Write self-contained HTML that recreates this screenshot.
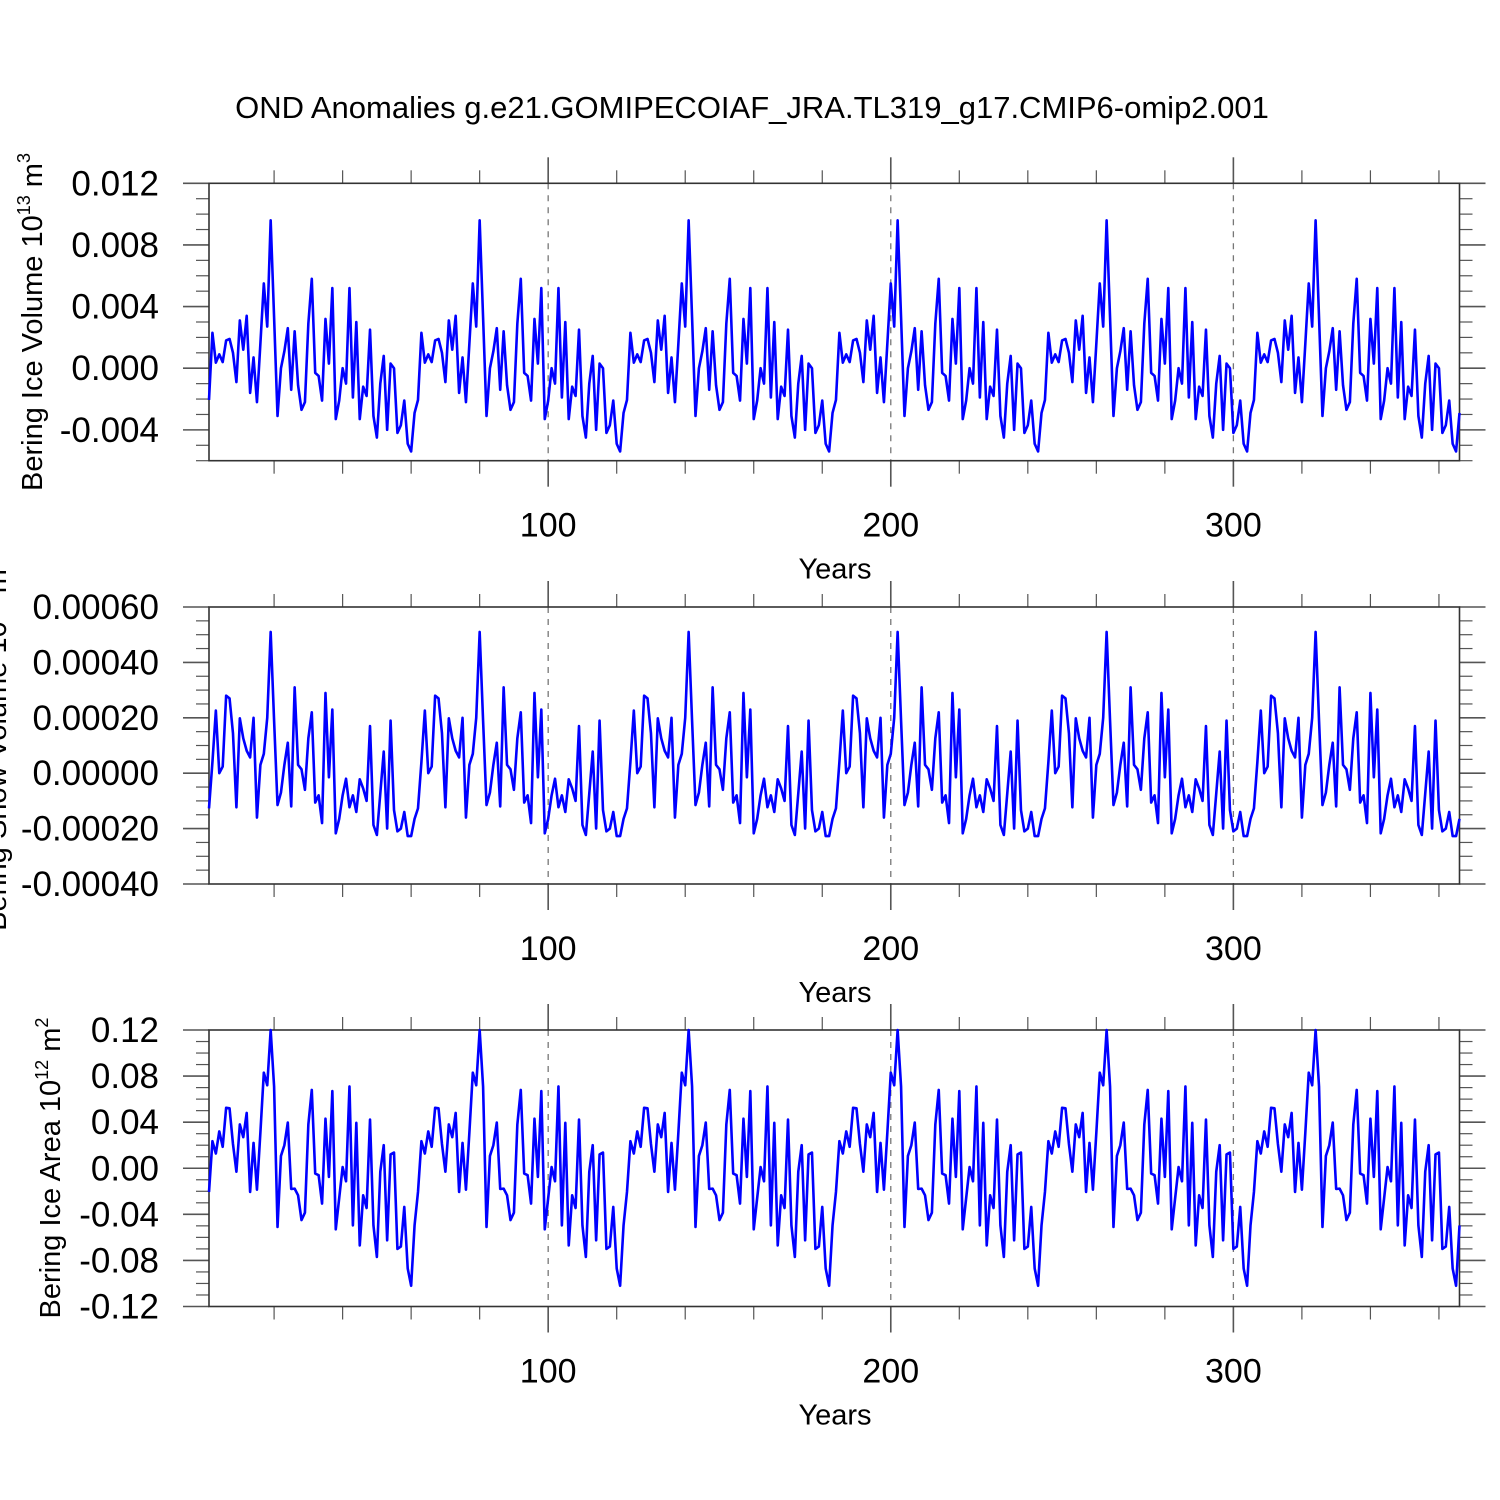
<!DOCTYPE html>
<html><head><meta charset="utf-8"><style>
html,body{margin:0;padding:0;background:#fff;}
svg{display:block;font-family:"Liberation Sans",sans-serif;}
</style></head><body>
<svg id="chart" width="1500" height="1500" viewBox="0 0 1500 1500">
<text x="752" y="118" font-size="31" text-anchor="middle">OND Anomalies g.e21.GOMIPECOIAF_JRA.TL319_g17.CMIP6-omip2.001</text>
</svg>
<script>
// one 61-year forcing cycle per panel (JRA 1958-2018), repeated over 6 cycles
const cycleIceVolume = [-0.00206,0.0023,0.00036,0.0009,0.0004,0.0018,0.0019,0.001,-0.0009,0.0031,0.0012,0.0034,-0.0016,0.0007,-0.0022,0.0016,0.0055,0.0027,0.0096,0.0033,-0.0031,0.0,0.0011,0.0026,-0.0014,0.0024,-0.0011,-0.0027,-0.0022,0.0029,0.0058,-0.0003,-0.0005,-0.0021,0.0032,0.0003,0.0052,-0.0033,-0.0021,0.0,-0.001,0.0052,-0.0019,0.003,-0.0033,-0.0012,-0.0018,0.0025,-0.0031,-0.0045,-0.001,0.0008,-0.004,0.0003,0.0,-0.0042,-0.0037,-0.0021,-0.0049,-0.0054,-0.0029];
const cycleSnowVolume = [-0.000127,0.00004,0.000226,0.0,0.000024,0.00028,0.00027,0.000144,-0.000123,0.000198,0.000126,0.000081,0.000057,0.0002,-0.00016,0.00003,0.00007,0.0002,0.00051,0.00019,-0.000115,-0.00007,0.00003,0.00011,-0.00012,0.00031,0.00003,0.000014,-0.00006,0.000126,0.00022,-0.000106,-0.00008,-0.00018,0.00029,-0.000015,0.00023,-0.000217,-0.000165,-0.00008,-0.00002,-0.000123,-0.00008,-0.00014,-0.000022,-0.000055,-0.0001,0.00017,-0.000187,-0.000223,-0.000073,0.000078,-0.0002,0.00019,-0.000133,-0.00021,-0.0002,-0.00014,-0.000227,-0.000227,-0.000165];
const cycleIceArea = [-0.0206,0.0235,0.0128,0.032,0.0186,0.0525,0.052,0.021,-0.003,0.038,0.027,0.048,-0.0206,0.022,-0.0186,0.031,0.083,0.072,0.12,0.071,-0.051,0.0107,0.02,0.0397,-0.018,-0.0177,-0.0235,-0.045,-0.0386,0.038,0.068,-0.0046,-0.006,-0.0307,0.043,-0.0075,0.067,-0.053,-0.026,0.001,-0.0113,0.071,-0.0496,0.0394,-0.067,-0.0235,-0.0345,0.0423,-0.0496,-0.077,-0.003,0.02,-0.0626,0.012,0.0136,-0.07,-0.068,-0.0336,-0.087,-0.102,-0.0496];
const nCycles = 6;
const xTickLabels = ["100","200","300"];
const xTickValues = [100,200,300];
const p1Ticks = ["-0.004","0.000","0.004","0.008","0.012"];
const p2Ticks = ["-0.00040","-0.00020","0.00000","0.00020","0.00040","0.00060"];
const p3Ticks = ["-0.12","-0.08","-0.04","0.00","0.04","0.08","0.12"];

const svg = document.getElementById('chart');
const NS = 'http://www.w3.org/2000/svg';
function mk(tag, attrs){const e=document.createElementNS(NS,tag);for(const k in attrs)e.setAttribute(k,attrs[k]);svg.appendChild(e);return e;}
const X0=209, X1=1459.5, XMIN=1, XMAX=366;
const xs = v => X0 + (v-XMIN)/(XMAX-XMIN)*(X1-X0);

function repeatCycle(c){let out=[];for(let k=0;k<nCycles;k++)out=out.concat(c);return out;}

const panels = [
 {name:'ice-volume', top:183.3, bot:460.7, ymin:-0.006, ymax:0.012, ticks:p1Ticks, minor:0.001, cycle:cycleIceVolume,
  title:'Bering Ice Volume 10', sup:'13', unit:' m', sup2:'3', tx:42, ty:322},
 {name:'snow-volume', top:607, bot:884, ymin:-0.0004, ymax:0.0006, ticks:p2Ticks, minor:0.00005, cycle:cycleSnowVolume,
  title:'Bering Snow Volume 10', sup:'13', unit:' m', sup2:'3', tx:6, ty:745},
 {name:'ice-area', top:1030, bot:1306.5, ymin:-0.12, ymax:0.12, ticks:p3Ticks, minor:0.01, cycle:cycleIceArea,
  title:'Bering Ice Area 10', sup:'12', unit:' m', sup2:'2', tx:60, ty:1168}
];

panels.forEach(p=>{
  const ys = v => p.bot - (v-p.ymin)/(p.ymax-p.ymin)*(p.bot-p.top);
  xTickValues.forEach(v=>{
    const g=mk('line',{x1:xs(v),x2:xs(v),y1:p.top,y2:p.bot,stroke:'#777','stroke-width':1.3,'stroke-dasharray':'6,6'});
    
    
  });
  for(let v=20; v<=XMAX; v+=20){
    const major = v%100===0, len = major?26:13;
    [[p.top,-len],[p.bot,len]].forEach(([y,d])=>{
      const t=mk('line',{x1:xs(v),x2:xs(v),y1:y,y2:y+d,stroke:'#555','stroke-width':major?1.6:1.2});
      
      
    });
  }
  const nMinor = Math.round((p.ymax-p.ymin)/p.minor);
  for(let i=0;i<=nMinor;i++){
    const v=p.ymin+i*p.minor;
    const isMajor = p.ticks.some(t=>Math.abs(parseFloat(t)-v)<p.minor*0.01);
    const len=isMajor?26:13;
    [[X0,-len],[X1,len]].forEach(([x,d])=>{
      const t=mk('line',{x1:x,x2:x+d,y1:ys(v),y2:ys(v),stroke:'#555','stroke-width':isMajor?1.6:1.2});
      
      
    });
  }
  p.ticks.forEach(lbl=>{
    const t=mk('text',{x:X0-50,y:ys(parseFloat(lbl))+12,'font-size':35,'text-anchor':'end'});
    t.textContent=lbl;
    
    
  });
  xTickValues.forEach((v,i)=>{
    const t=mk('text',{x:xs(v),y:p.bot+76,'font-size':34,'text-anchor':'middle'});
    t.textContent=xTickLabels[i];
    
    
  });
  const xt=mk('text',{x:835,y:p.bot+118,'font-size':29,'text-anchor':'middle'});
  xt.textContent='Years';
  
  
  const yt=mk('text',{x:0,y:0,'font-size':29,'text-anchor':'middle',transform:`translate(${p.tx},${p.ty}) rotate(-90)`});
  
  
  yt.innerHTML = `${p.title}<tspan font-size="18" dy="-12">${p.sup}</tspan><tspan dy="12">${p.unit}</tspan><tspan font-size="18" dy="-12">${p.sup2}</tspan>`;
  const fr=mk('rect',{x:X0,y:p.top,width:X1-X0,height:p.bot-p.top,fill:'none',stroke:'#333','stroke-width':1.6});
  
  
  const vals = repeatCycle(p.cycle);
  const d = vals.map((v,i)=>(i?'L':'M')+xs(XMIN+i).toFixed(2)+','+ys(v).toFixed(2)).join('');
  const ln=mk('path',{d:d,fill:'none',stroke:'#0000ff','stroke-width':2.6,'stroke-linejoin':'round'});
  
  
});
</script>
</body></html>
